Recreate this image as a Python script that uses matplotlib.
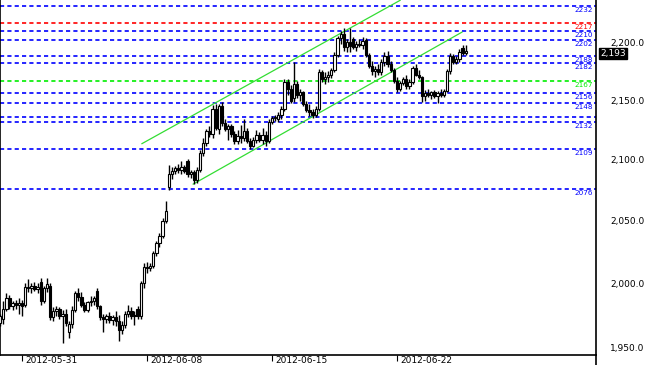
import matplotlib
matplotlib.use("Agg")
import matplotlib.pyplot as plt
import matplotlib.transforms as mtransforms
from matplotlib.lines import Line2D

# bar data (one bar per index)
opens = [1969, 1972, 1980, 1988, 1982, 1984, 1983, 1984, 1983, 1997,
         1996, 1998, 1995, 2001, 1986, 1996, 1998, 1973, 1978, 1980,
         1974, 1976, 1962, 1968, 1979, 1992, 1989, 1983, 1979, 1985,
         1986, 1994, 1982, 1973, 1972, 1974, 1971, 1973, 1970, 1963,
         1967, 1976, 1978, 1974, 1980, 1974, 2000, 2013, 2012, 2014,
         2024, 2032, 2038, 2050, 2078, 2088, 2091, 2093, 2092, 2094,
         2099, 2088, 2090, 2083, 2092, 2106, 2114, 2124, 2122, 2143,
         2126, 2145, 2131, 2126, 2128, 2122, 2116, 2120, 2118, 2124,
         2116, 2112, 2117, 2121, 2117, 2121, 2116, 2132, 2135, 2134,
         2138, 2143, 2166, 2160, 2152, 2164, 2155, 2157, 2147, 2142,
         2140, 2138, 2143, 2174, 2168, 2170, 2172, 2176, 2189, 2204,
         2207, 2196, 2200, 2203, 2196, 2199, 2198, 2202, 2189, 2180,
         2175, 2177, 2174, 2183, 2188, 2181, 2176, 2167, 2160, 2165,
         2168, 2162, 2166, 2178, 2172, 2170, 2154, 2156, 2155, 2157,
         2154, 2156, 2155, 2158, 2175, 2188, 2183, 2186, 2195, 2191]
highs = [1976, 1986, 1992, 1991, 1986, 1987, 1988, 1987, 2000, 2003,
         2000, 2001, 2000, 2004, 1998, 2004, 2000, 1981, 1982, 1981,
         1979, 1980, 1970, 1982, 1994, 1996, 1993, 1985, 1986, 1990,
         1990, 1996, 1983, 1976, 1976, 1977, 1975, 1978, 1975, 1970,
         1978, 1983, 1981, 1978, 1982, 2002, 2016, 2017, 2016, 2026,
         2034, 2040, 2052, 2066, 2096, 2094, 2095, 2097, 2099, 2096,
         2101, 2092, 2092, 2094, 2108, 2118, 2126, 2128, 2146, 2147,
         2147, 2149, 2134, 2130, 2130, 2124, 2125, 2129, 2134, 2127,
         2118, 2119, 2125, 2123, 2127, 2124, 2134, 2137, 2138, 2140,
         2145, 2168, 2168, 2163, 2183, 2167, 2160, 2158, 2150, 2147,
         2143, 2145, 2177, 2176, 2174, 2175, 2178, 2192, 2206, 2210,
         2213, 2203, 2213, 2205, 2201, 2203, 2205, 2204, 2191, 2184,
         2180, 2181, 2186, 2192, 2193, 2184, 2178, 2170, 2167, 2170,
         2172, 2168, 2180, 2181, 2176, 2171, 2159, 2160, 2158, 2159,
         2158, 2160, 2160, 2177, 2191, 2190, 2188, 2194, 2198, 2198]
lows = [1966, 1968, 1978, 1980, 1979, 1980, 1976, 1974, 1981, 1993,
        1992, 1994, 1992, 1983, 1984, 1993, 1971, 1970, 1974, 1972,
        1953, 1966, 1957, 1965, 1977, 1986, 1981, 1977, 1977, 1982,
        1983, 1980, 1971, 1962, 1969, 1969, 1967, 1966, 1955, 1960,
        1965, 1973, 1972, 1967, 1972, 1972, 1996, 2008, 2010, 2012,
        2022, 2029, 2036, 2048, 2075, 2084, 2088, 2089, 2088, 2089,
        2086, 2085, 2080, 2081, 2090, 2103, 2112, 2119, 2118, 2125,
        2122, 2128, 2124, 2117, 2119, 2113, 2113, 2114, 2116, 2114,
        2109, 2111, 2114, 2115, 2113, 2112, 2114, 2130, 2133, 2132,
        2134, 2141, 2155, 2148, 2149, 2152, 2150, 2145, 2140, 2137,
        2135, 2136, 2141, 2166, 2164, 2166, 2169, 2174, 2187, 2199,
        2193, 2192, 2192, 2194, 2193, 2196, 2194, 2187, 2178, 2172,
        2170, 2172, 2172, 2180, 2179, 2174, 2165, 2157, 2158, 2163,
        2160, 2160, 2164, 2171, 2168, 2149, 2150, 2153, 2151, 2152,
        2148, 2153, 2153, 2157, 2173, 2181, 2181, 2183, 2189, 2189]
closes = [1974, 1980, 1988, 1982, 1984, 1983, 1984, 1982, 1997, 1996,
          1998, 1995, 1997, 1986, 1996, 1999, 1973, 1978, 1980, 1974,
          1976, 1969, 1968, 1979, 1992, 1989, 1983, 1979, 1985, 1986,
          1988, 1982, 1973, 1972, 1974, 1971, 1973, 1970, 1963, 1967,
          1976, 1978, 1974, 1975, 1974, 2000, 2013, 2012, 2014, 2024,
          2032, 2038, 2050, 2058, 2088, 2091, 2093, 2092, 2094, 2091,
          2088, 2090, 2083, 2092, 2106, 2114, 2124, 2122, 2143, 2127,
          2145, 2131, 2126, 2128, 2122, 2116, 2120, 2118, 2124, 2116,
          2112, 2117, 2121, 2117, 2121, 2116, 2132, 2135, 2136, 2138,
          2143, 2166, 2160, 2150, 2164, 2155, 2157, 2147, 2142, 2140,
          2138, 2143, 2174, 2168, 2170, 2172, 2176, 2189, 2204, 2207,
          2196, 2200, 2197, 2196, 2199, 2198, 2201, 2189, 2180, 2175,
          2177, 2174, 2183, 2188, 2181, 2176, 2167, 2160, 2165, 2168,
          2162, 2166, 2178, 2172, 2170, 2154, 2156, 2155, 2157, 2154,
          2156, 2155, 2158, 2175, 2188, 2183, 2186, 2192, 2191, 2193]

# support / resistance levels and their colours
levels = [2232, 2217, 2210, 2202, 2188, 2182, 2167, 2156, 2148, 2136, 2132, 2109, 2076]
level_colors = ['#0000ff', '#ff0000', '#0000ff', '#0000ff', '#0000ff', '#0000ff', '#00ee00',
                '#0000ff', '#0000ff', '#0000ff', '#0000ff', '#0000ff', '#0000ff']
level_labels = ['2232', '2217', '2210', '2202', '2188', '2182', '2167',
                '2156', '2148', '', '2132', '2109', '2076']

# trend channel end points (bar index, price)
upper_x = [45.4, 128.0]
upper_y = [2113.6, 2237.0]
lower_x = [61.8, 147.8]
lower_y = [2080.0, 2209.0]

tick_pos = [7, 47, 87, 127]
tick_labels = ['2012-05-31', '2012-06-08', '2012-06-15', '2012-06-22']
y_ticks = [1950, 2000, 2050, 2100, 2150, 2200]
last_price = 2193

fig = plt.figure(figsize=(6.49, 3.65), dpi=100)
ax = fig.add_axes([0, 10 / 365, 596 / 649, 355 / 365])
ax.set_yscale('log')
ax.set_xlim(-0.03, 190.7)
ax.set_ylim(1943.9, 2237.3)

# horizontal levels
for lv, col, lab in zip(levels, level_colors, level_labels):
    ax.axhline(lv, color=col, lw=1.2, linestyle=(0, (2.5, 1.9)), zorder=1)
    if lab:
        ax.annotate(lab, xy=(1, lv), xycoords=ax.get_yaxis_transform(),
                    xytext=(-3, -4), textcoords='offset pixels',
                    ha='right', va='center', fontsize=5.2, color=col)

# channel
ax.plot(upper_x, upper_y, color='#33dd33', lw=0.9, zorder=2)
ax.plot(lower_x, lower_y, color='#33dd33', lw=0.9, zorder=2)

# candles
idx = list(range(len(closes)))
ax.vlines(idx, lows, highs, color='black', lw=1.0, zorder=3)
bottoms = [min(o, c) for o, c in zip(opens, closes)]
heights = [max(abs(c - o), 0.6) for o, c in zip(opens, closes)]
faces = ['white' if c >= o else 'black' for o, c in zip(opens, closes)]
ax.bar(idx, heights, bottom=bottoms, width=0.75, color=faces,
       edgecolor='black', linewidth=0.8, zorder=4)

# axes styling
ax.spines['top'].set_visible(False)
for s in ['left', 'bottom', 'right']:
    ax.spines[s].set_linewidth(1.2)

ax.yaxis.tick_right()
ax.set_yticks(y_ticks)
ax.set_yticklabels(['{:,.1f}'.format(v) for v in y_ticks])
ax.yaxis.set_minor_locator(matplotlib.ticker.NullLocator())
ax.tick_params(axis='y', length=0, pad=10, labelsize=6.5)

ax.set_xticks(tick_pos)
ax.set_xticklabels(tick_labels)
ax.tick_params(axis='x', length=4, width=0.8, pad=-3.5, labelsize=6.5, direction='out')
offset = mtransforms.ScaledTranslation(3 / 100, 0, fig.dpi_scale_trans)
for lbl in ax.get_xticklabels():
    lbl.set_ha('left')
    lbl.set_transform(lbl.get_transform() + offset)

# right axis line runs through to the bottom of the image
fig.add_artist(Line2D([596 / 649, 596 / 649], [0, 10 / 365], color='black', lw=1.2,
                      transform=fig.transFigure))

# last price marker
ax.annotate('{:,}'.format(last_price), xy=(1, last_price), xycoords=ax.get_yaxis_transform(),
            xytext=(4, -3), textcoords='offset pixels', ha='left', va='center',
            fontsize=6.5, color='white', annotation_clip=False,
            bbox=dict(boxstyle='square,pad=0.15', fc='black', ec='black'))

fig.savefig('out.png', dpi=100)
